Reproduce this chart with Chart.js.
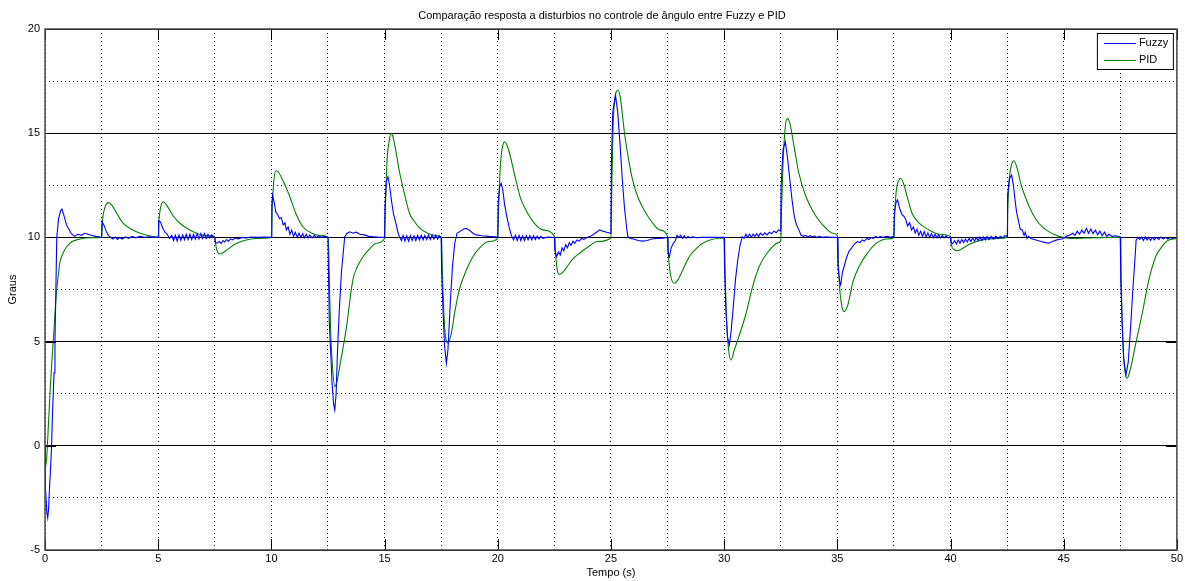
<!DOCTYPE html>
<html><head><meta charset="utf-8">
<script src="https://cdn.jsdelivr.net/npm/chart.js@4.4.1/dist/chart.umd.min.js"></script>
<style>html,body{margin:0;padding:0;background:#fff;overflow:hidden}canvas{display:block}</style>
</head><body>
<canvas id="c" width="1185" height="581"></canvas>
<script>
const chartTitle = 'Comparação resposta a disturbios no controle de ângulo entre Fuzzy e PID';
const xLabel = 'Tempo (s)';
const yLabel = 'Graus';
const seriesNames = ['Fuzzy', 'PID'];
const seriesColors = ['#0000ff', '#008000'];
const xMajorTicks = [0, 5, 10, 15, 20, 25, 30, 35, 40, 45, 50];
const yMajorTicks = [-5, 0, 5, 10, 15, 20];

// [tempo (s), graus]
const fuzzyPoints = [
[0,0],[0.02,-2.0],[0.08,-3.2],[0.12,-3.46],[0.16,-3.0],[0.2,-2.0],[0.25,-1.0],[0.29,0],[0.33,1.5],[0.4,3.5],[0.44,5.0],[0.48,7.5],[0.52,10.0],
[0.6,10.9],[0.7,11.3],[0.75,11.36],[0.85,11.0],[0.95,10.6],[1.05,10.4],[1.15,10.2],[1.3,10.05],[1.45,10.15],[1.6,10.1],[1.75,10.2],[1.9,10.15],[2.05,10.1],[2.25,10.05],[2.5,10.0],
[2.52,10.75],[2.6,10.6],[2.7,10.3],[2.8,10.1],[2.9,10.0],[3.0,9.92],[3.1,10.02],[3.2,9.9],[3.3,10.0],[3.4,9.92],[3.55,10.02],[3.7,9.95],[3.85,10.05],[4.0,9.98],[4.2,10.05],[4.4,10.0],[4.6,10.03],[4.8,10.0],[5.0,10.0],
[5.02,10.8],[5.1,10.75],[5.2,10.45],[5.3,10.25],[5.4,10.15],[5.5,9.95],[5.6,10.1],[5.68,9.85],[5.76,10.1],[5.84,9.82],[5.92,10.12],[6.0,9.85],[6.08,10.12],[6.16,9.88],[6.24,10.15],[6.32,9.9],[6.4,10.15],[6.48,9.9],[6.56,10.15],[6.64,9.92],[6.72,10.18],[6.8,9.92],[6.88,10.18],[6.96,9.95],[7.04,10.18],[7.12,9.95],[7.2,10.15],[7.28,9.97],[7.36,10.12],[7.5,10.0],
[7.52,9.75],[7.6,9.72],[7.7,9.8],[7.78,9.7],[7.86,9.85],[7.94,9.78],[8.02,9.9],[8.1,9.82],[8.2,9.93],[8.3,9.88],[8.4,9.97],[8.55,9.93],[8.7,10.0],[8.9,9.97],[9.1,10.02],[9.4,10.0],[9.7,10.02],[10.0,10.0],
[10.02,11.5],[10.05,12.03],[10.12,11.7],[10.2,11.2],[10.28,11.1],[10.36,10.9],[10.44,10.95],[10.52,10.6],[10.6,10.7],[10.66,10.36],[10.74,10.5],[10.82,10.15],[10.9,10.35],[10.98,10.05],[11.06,10.25],[11.14,10.0],[11.22,10.2],[11.3,10.0],[11.38,10.18],[11.46,9.98],[11.54,10.15],[11.62,9.98],[11.7,10.12],[11.8,9.98],[11.9,10.1],[12.0,10.0],[12.1,10.08],[12.2,10.0],[12.35,10.05],[12.5,10.0],
[12.52,8.5],[12.56,5.9],[12.62,4.5],[12.68,3.0],[12.75,2.0],[12.8,1.72],[12.86,2.5],[12.92,4.5],[13.0,6.5],[13.1,8.4],[13.24,10.03],[13.35,10.2],[13.46,10.27],[13.6,10.2],[13.75,10.25],[13.9,10.15],[14.1,10.12],[14.3,10.05],[14.5,10.03],[14.8,10.0],[15.0,10.0],
[15.02,11.5],[15.08,12.7],[15.15,12.91],[15.22,12.5],[15.3,11.8],[15.4,11.1],[15.5,10.68],[15.6,10.2],[15.67,10.0],[15.75,9.85],[15.82,10.1],[15.9,9.82],[15.98,10.08],[16.06,9.82],[16.14,10.08],[16.22,9.85],[16.3,10.08],[16.38,9.85],[16.46,10.1],[16.54,9.88],[16.62,10.1],[16.7,9.88],[16.78,10.1],[16.86,9.9],[16.94,10.12],[17.02,9.9],[17.1,10.12],[17.18,9.92],[17.26,10.1],[17.34,9.92],[17.42,10.08],[17.5,10.0],
[17.52,8.5],[17.58,6.5],[17.65,4.8],[17.73,3.96],[17.8,4.6],[17.9,6.8],[18.0,8.6],[18.1,9.72],[18.2,10.2],[18.35,10.3],[18.5,10.4],[18.6,10.43],[18.75,10.35],[18.9,10.2],[19.05,10.12],[19.3,10.08],[19.6,10.05],[20.0,10.02],
[20.02,11.6],[20.08,12.4],[20.15,12.6],[20.22,12.3],[20.3,11.6],[20.4,11.0],[20.5,10.5],[20.6,10.1],[20.7,9.88],[20.78,10.1],[20.86,9.85],[20.94,10.1],[21.02,9.85],[21.1,10.08],[21.18,9.85],[21.26,10.08],[21.34,9.88],[21.42,10.08],[21.5,9.88],[21.58,10.08],[21.66,9.9],[21.74,10.06],[21.82,9.92],[21.9,10.05],[22.0,9.95],[22.2,10.02],[22.5,10.0],
[22.52,9.4],[22.6,9.07],[22.68,9.3],[22.76,9.15],[22.84,9.5],[22.92,9.35],[23.0,9.65],[23.08,9.5],[23.16,9.75],[23.24,9.62],[23.32,9.82],[23.4,9.72],[23.5,9.88],[23.6,9.82],[23.7,9.95],[23.8,9.9],[23.95,10.0],[24.1,10.05],[24.3,10.2],[24.5,10.36],[24.65,10.3],[24.8,10.25],[25.0,10.2],
[25.02,13.5],[25.08,16.0],[25.2,16.83],[25.3,16.0],[25.4,14.5],[25.5,12.8],[25.6,11.4],[25.7,10.4],[25.75,10.03],[25.85,9.95],[26.0,9.92],[26.2,9.85],[26.4,9.82],[26.6,9.85],[26.8,9.92],[27.0,9.95],[27.2,9.95],[27.5,10.0],
[27.52,9.3],[27.58,9.07],[27.66,9.5],[27.75,9.7],[27.85,9.85],[27.92,10.1],[28.0,10.0],[28.08,10.1],[28.16,9.95],[28.24,10.08],[28.32,9.95],[28.4,10.05],[28.5,9.98],[28.6,10.03],[28.8,9.98],[29.0,10.0],[29.3,10.0],[30.0,10.0],
[30.02,8.5],[30.08,6.5],[30.15,5.2],[30.23,4.84],[30.3,5.4],[30.4,6.6],[30.5,7.96],[30.6,8.9],[30.7,9.6],[30.8,10.03],[30.88,9.95],[30.96,10.15],[31.04,10.0],[31.12,10.15],[31.2,10.02],[31.28,10.15],[31.36,10.05],[31.44,10.18],[31.52,10.05],[31.6,10.2],[31.7,10.1],[31.8,10.22],[31.9,10.12],[32.0,10.25],[32.1,10.18],[32.2,10.3],[32.3,10.22],[32.4,10.36],[32.5,10.3],
[32.52,12.5],[32.6,14.2],[32.7,14.59],[32.78,14.0],[32.9,12.8],[33.0,11.8],[33.1,11.0],[33.2,10.6],[33.3,10.36],[33.4,10.1],[33.5,10.05],[33.6,10.1],[33.7,10.02],[33.8,10.08],[33.9,10.02],[34.0,10.06],[34.1,10.0],[34.2,10.05],[34.35,10.0],[34.5,10.03],[34.7,10.0],[35.0,10.0],
[35.03,8.6],[35.1,7.9],[35.15,7.72],[35.22,8.3],[35.3,8.6],[35.4,9.0],[35.5,9.3],[35.6,9.45],[35.7,9.6],[35.8,9.72],[35.9,9.8],[36.0,9.75],[36.1,9.88],[36.2,9.82],[36.3,9.95],[36.4,9.9],[36.5,10.0],[36.6,9.95],[36.7,10.05],[36.8,9.98],[36.9,10.05],[37.0,10.0],[37.2,10.05],[37.35,10.0],[37.5,10.05],
[37.52,11.2],[37.6,11.7],[37.66,11.8],[37.75,11.4],[37.85,11.1],[37.95,11.0],[38.03,10.84],[38.1,10.55],[38.2,10.7],[38.28,10.35],[38.36,10.5],[38.44,10.2],[38.52,10.4],[38.6,10.1],[38.68,10.3],[38.76,10.05],[38.84,10.28],[38.92,10.02],[39.0,10.22],[39.08,10.0],[39.16,10.18],[39.24,9.98],[39.32,10.15],[39.4,9.98],[39.48,10.12],[39.56,9.98],[39.64,10.1],[39.72,9.98],[39.8,10.08],[39.9,9.98],[40.0,10.02],
[40.02,9.75],[40.1,9.7],[40.18,9.85],[40.26,9.68],[40.34,9.88],[40.42,9.72],[40.5,9.9],[40.58,9.75],[40.66,9.92],[40.74,9.78],[40.82,9.95],[40.9,9.8],[40.98,9.98],[41.06,9.82],[41.14,10.0],[41.22,9.85],[41.3,10.02],[41.38,9.85],[41.46,10.02],[41.54,9.88],[41.62,10.05],[41.7,9.9],[41.8,10.05],[41.9,9.92],[42.0,10.05],[42.1,9.95],[42.2,10.05],[42.3,9.98],[42.4,10.08],[42.5,10.05],
[42.52,12.0],[42.6,12.8],[42.7,12.99],[42.78,12.5],[42.85,11.8],[42.92,11.2],[43.0,10.8],[43.08,10.4],[43.17,10.36],[43.25,10.1],[43.3,10.25],[43.38,9.95],[43.45,10.05],[43.55,9.95],[43.7,9.9],[43.85,9.85],[44.0,9.8],[44.2,9.75],[44.35,9.72],[44.5,9.8],[44.7,9.88],[44.9,9.92],[45.0,9.95],
[45.1,10.05],[45.25,10.1],[45.4,10.2],[45.5,10.1],[45.6,10.3],[45.7,10.15],[45.8,10.35],[45.9,10.2],[46.0,10.44],[46.1,10.2],[46.2,10.4],[46.3,10.18],[46.4,10.35],[46.5,10.12],[46.6,10.3],[46.7,10.08],[46.8,10.25],[46.9,10.05],[47.0,10.15],[47.15,10.05],[47.3,10.08],[47.5,10.02],
[47.52,8.0],[47.58,6.0],[47.65,4.2],[47.75,3.4],[47.85,4.0],[47.95,5.6],[48.05,7.4],[48.15,9.0],[48.2,9.88],[48.28,10.0],[48.36,9.9],[48.44,10.02],[48.52,9.85],[48.6,10.02],[48.68,9.88],[48.76,10.0],[48.84,9.85],[48.92,10.0],[49.0,9.88],[49.1,10.0],[49.2,9.9],[49.3,10.02],[49.4,9.92],[49.5,10.0],[49.6,9.92],[49.7,10.0],[49.8,9.95],[49.9,10.0],[50.0,9.98]
];

const pidPoints = [
[0,0],[0.03,-1.0],[0.08,-0.5],[0.15,1.0],[0.22,2.5],[0.3,4.0],[0.37,5.1],[0.45,6.5],[0.52,7.5],[0.6,8.3],[0.66,8.8],[0.8,9.25],[0.96,9.55],[1.2,9.8],[1.54,9.92],[2.0,9.98],[2.5,10.0],
[2.55,10.9],[2.65,11.45],[2.8,11.67],[2.95,11.55],[3.2,11.1],[3.45,10.68],[3.8,10.4],[4.2,10.2],[4.6,10.08],[5.0,10.02],
[5.04,10.9],[5.1,11.4],[5.22,11.71],[5.4,11.5],[5.65,11.05],[5.96,10.68],[6.25,10.45],[6.55,10.27],[7.0,10.1],[7.5,10.02],
[7.55,9.6],[7.62,9.3],[7.72,9.2],[7.85,9.25],[8.1,9.45],[8.4,9.68],[8.8,9.85],[9.3,9.95],[10.0,10.0],
[10.04,11.5],[10.1,12.6],[10.2,13.2],[10.3,13.15],[10.5,12.75],[10.8,12.0],[11.1,11.1],[11.4,10.5],[11.8,10.2],[12.1,10.1],[12.5,10.02],
[12.53,9.5],[12.57,7.5],[12.62,5.5],[12.7,3.8],[12.8,2.84],[12.9,3.1],[13.05,4.0],[13.3,5.56],[13.6,7.96],[13.8,8.6],[14.05,9.07],[14.3,9.4],[14.64,9.72],[15.0,9.95],
[15.04,11.5],[15.1,13.5],[15.2,14.6],[15.3,14.99],[15.4,14.7],[15.67,13.08],[15.9,12.0],[16.1,11.16],[16.3,10.8],[16.55,10.44],[16.9,10.2],[17.2,10.1],[17.5,10.02],
[17.53,9.3],[17.58,7.5],[17.66,5.6],[17.8,4.92],[17.95,5.4],[18.1,6.4],[18.3,7.48],[18.6,8.4],[18.9,9.07],[19.2,9.5],[19.6,9.8],[20.0,9.95],
[20.04,11.5],[20.12,13.5],[20.22,14.4],[20.3,14.59],[20.45,14.3],[20.8,12.75],[21.0,11.9],[21.25,11.3],[21.6,10.7],[21.99,10.36],[22.5,10.05],
[22.55,9.3],[22.62,8.5],[22.7,8.23],[22.85,8.3],[23.1,8.65],[23.3,8.95],[23.6,9.23],[24.0,9.55],[24.4,9.8],[25.0,9.97],
[25.04,12.5],[25.1,15.5],[25.2,16.8],[25.3,17.07],[25.4,16.8],[25.6,15.0],[25.8,13.6],[25.96,12.75],[26.2,11.9],[26.55,11.16],[26.8,10.75],[27.14,10.36],[27.5,10.05],
[27.55,9.0],[27.65,8.1],[27.8,7.8],[27.95,7.95],[28.2,8.5],[28.46,9.07],[28.8,9.5],[29.2,9.8],[30.0,9.97],
[30.04,8.5],[30.1,6.2],[30.2,4.6],[30.3,4.12],[30.45,4.6],[30.7,5.4],[30.97,6.36],[31.25,7.6],[31.55,8.6],[31.9,9.25],[32.4,9.75],[32.5,9.85],
[32.54,11.5],[32.6,13.5],[32.7,15.3],[32.8,15.7],[32.9,15.5],[33.1,14.3],[33.3,13.08],[33.6,12.0],[33.9,11.3],[34.2,10.8],[34.5,10.44],[34.8,10.2],[35.0,10.1],
[35.04,9.0],[35.1,7.6],[35.2,6.7],[35.3,6.44],[35.45,6.7],[35.7,7.9],[35.96,8.6],[36.3,9.2],[36.7,9.7],[37.2,9.92],[37.5,9.98],
[37.53,11.0],[37.6,12.2],[37.7,12.7],[37.8,12.84],[37.95,12.5],[38.1,11.9],[38.3,11.16],[38.6,10.7],[39.05,10.36],[39.5,10.15],[40.0,10.05],
[40.05,9.6],[40.15,9.42],[40.3,9.36],[40.5,9.45],[40.8,9.65],[41.2,9.82],[41.7,9.93],[42.5,10.0],
[42.53,11.3],[42.6,12.8],[42.7,13.5],[42.8,13.68],[42.95,13.3],[43.1,12.6],[43.3,11.95],[43.6,11.2],[43.9,10.68],[44.3,10.3],[44.8,10.05],[45.0,10.0],
[45.3,9.95],[46.0,9.97],[47.0,10.0],[47.5,10.0],
[47.53,8.5],[47.58,6.0],[47.65,4.2],[47.8,3.24],[47.95,3.7],[48.2,5.0],[48.47,6.36],[48.75,7.9],[49.06,9.07],[49.3,9.5],[49.6,9.85],[50.0,9.95]
];

const FONT = "'Liberation Sans', Arial, sans-serif";
Chart.defaults.font.family = FONT;
Chart.defaults.font.size = 11;
Chart.defaults.color = '#000';

const toXY = pts => pts.map(p => ({x: p[0], y: p[1]}));

const framePlugin = {
  id: 'frame',
  afterDatasetsDraw(chart) {
    const {ctx, chartArea: a, scales} = chart;
    ctx.save();
    // inward tick marks
    ctx.strokeStyle = '#000';
    ctx.lineWidth = 1;
    const tl = 11;
    ctx.beginPath();
    xMajorTicks.forEach(v => {
      const px = Math.round(scales.x.getPixelForValue(v)) + 0.5;
      ctx.moveTo(px, a.bottom); ctx.lineTo(px, a.bottom - tl);
      ctx.moveTo(px, a.top); ctx.lineTo(px, a.top + tl);
    });
    yMajorTicks.forEach(v => {
      const py = Math.round(scales.y.getPixelForValue(v)) + 0.5;
      ctx.moveTo(a.left, py); ctx.lineTo(a.left + tl, py);
      ctx.moveTo(a.right, py); ctx.lineTo(a.right - tl, py);
    });
    ctx.stroke();
    // box
    ctx.strokeStyle = '#4a4a4a';
    ctx.lineWidth = 1.5;
    ctx.strokeRect(a.left, a.top, a.right - a.left, a.bottom - a.top);
    // title
    ctx.fillStyle = '#000';
    ctx.font = '11px ' + FONT;
    ctx.textAlign = 'center';
    ctx.textBaseline = 'middle';
    ctx.fillText(chartTitle, (a.left + a.right) / 2 - 9, a.top - 13);
    // legend
    const w = 76, h = 36;
    const lx = a.right - 4 - w, ly = a.top + 4;
    ctx.fillStyle = '#fff';
    ctx.fillRect(lx, ly, w, h);
    ctx.strokeStyle = '#000';
    ctx.lineWidth = 1;
    ctx.strokeRect(lx + 0.5, ly + 0.5, w, h);
    chart.data.datasets.forEach((ds, i) => {
      const yy = ly + 10 + i * 16.5;
      ctx.strokeStyle = ds.borderColor;
      ctx.lineWidth = 1;
      ctx.beginPath();
      ctx.moveTo(lx + 7, Math.round(yy) + 0.5);
      ctx.lineTo(lx + 39, Math.round(yy) + 0.5);
      ctx.stroke();
      ctx.fillStyle = '#000';
      ctx.textAlign = 'left';
      ctx.textBaseline = 'middle';
      ctx.fillText(ds.label, lx + 42, yy);
    });
    ctx.restore();
  }
};

new Chart(document.getElementById('c'), {
  type: 'line',
  data: {
    datasets: [
      {label: seriesNames[0], data: toXY(fuzzyPoints), borderColor: seriesColors[0], borderWidth: 1.1, pointRadius: 0, tension: 0, fill: false},
      {label: seriesNames[1], data: toXY(pidPoints), borderColor: seriesColors[1], borderWidth: 1.1, pointRadius: 0, cubicInterpolationMode: 'monotone', fill: false}
    ]
  },
  options: {
    responsive: false,
    animation: false,
    devicePixelRatio: 1,
    layout: {padding: {top: 29, right: 7, left: 0, bottom: 0}},
    plugins: {legend: {display: false}, title: {display: false}, tooltip: {enabled: false}},
    scales: {
      x: {
        type: 'linear', min: 0, max: 50,
        afterFit: s => { s.height = 31; },
        ticks: {stepSize: 2.5, autoSkip: false, maxRotation: 0, padding: 2,
          callback: v => xMajorTicks.includes(v) ? String(v) : ''},
        grid: {color: '#000', lineWidth: 1, drawTicks: false},
        border: {display: false, dash: [1, 3]},
        title: {display: true, text: xLabel, padding: {top: 0, bottom: 1}}
      },
      y: {
        type: 'linear', min: -5, max: 20,
        afterFit: s => { s.width = 45; },
        ticks: {stepSize: 2.5, autoSkip: false, padding: 5,
          callback: v => yMajorTicks.includes(v) ? String(v) : ''},
        grid: {color: '#000', lineWidth: 1, drawTicks: false},
        border: {display: false, dash: ctx => (ctx.tick && yMajorTicks.includes(ctx.tick.value)) ? [] : [1, 3]},
        title: {display: true, text: yLabel, padding: {top: 6, bottom: 0}}
      }
    }
  },
  plugins: [framePlugin]
});
</script>
</body></html>
